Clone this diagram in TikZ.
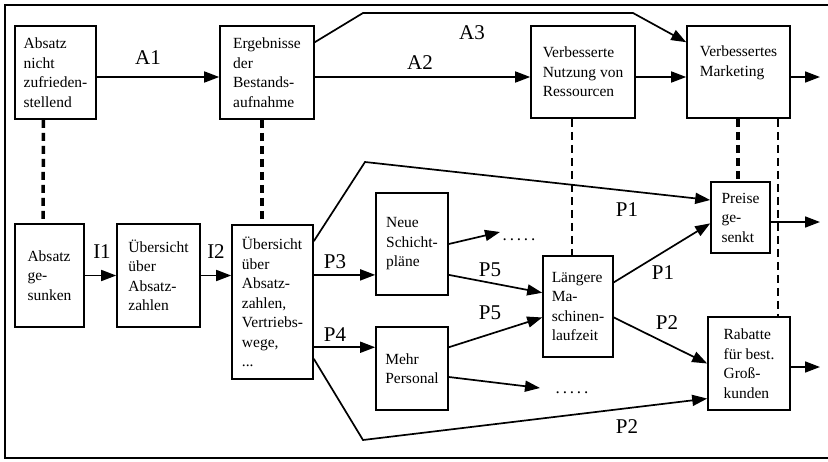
\documentclass[tikz,border=0pt]{standalone}
\usepackage{fontspec}
\setmainfont{Liberation Serif}
\usetikzlibrary{arrows.meta}

\tikzset{
  box/.style={draw, line width=1.6pt, align=left, inner xsep=7pt,
    font=\fontsize{15.5}{19.5}\selectfont},
  arr/.style={line width=1.7pt, -{Triangle[length=15pt,width=11pt]}},
  lab/.style={font=\fontsize{21}{22}\selectfont},
  more/.style={font=\fontsize{17}{18}\selectfont},
  link/.style={line width=3.5pt, dash pattern=on 8pt off 5pt},
  linkthin/.style={line width=1.8pt, dash pattern=on 8pt off 5pt}
}

\begin{document}
\begin{tikzpicture}[x=1pt,y=-1pt]
\useasboundingbox (0,0) rectangle (828,461);
% frame
\draw[line width=1.6pt] (828,5) -- (5,5) -- (5,458) -- (828,458);

% upper row
\node[box, minimum width=81pt, minimum height=93pt] (absn) at (55.5,72.5) {Absatz\\nicht\\zufrieden-\\stellend};
\node[box, minimum width=94pt, minimum height=93pt] (erg) at (267,72.5) {Ergebnisse\\der\\Bestands-\\aufnahme};
\node[box, minimum width=104pt, minimum height=92pt] (vnr) at (583,72) {Verbesserte\\Nutzung von\\Ressourcen};
\node[box, minimum width=103pt, minimum height=92pt, text depth=22pt] (vmk) at (738.5,72) {Verbessertes\\Marketing};

% lower row
\node[box, minimum width=69pt, minimum height=103pt] (absg) at (49.5,275.5) {Absatz\\ge-\\sunken};
\node[box, minimum width=83pt, minimum height=103pt] (ueb1) at (158.5,275.5) {Übersicht\\über\\Absatz-\\zahlen};
\node[box, minimum width=81pt, minimum height=154pt] (ueb2) at (272.5,302) {Übersicht\\über\\Absatz-\\zahlen,\\Vertriebs-\\wege,\\...};
\node[box, minimum width=72pt, minimum height=102pt] (neue) at (412,244) {Neue\\Schicht-\\pläne};
\node[box, minimum width=72pt, minimum height=83pt] (mehr) at (412,368.5) {Mehr\\Personal};
\node[box, minimum width=70pt, minimum height=101pt] (lmz) at (578,306.5) {Längere\\Ma-\\schinen-\\laufzeit};
\node[box, minimum width=59pt, minimum height=71pt, inner xsep=5pt] (preise) at (740.5,217.5) {Preise\\ge-\\senkt};
\node[box, minimum width=82pt, minimum height=93pt] (rabatt) at (749,363.5) {Rabatte\\für best.\\Groß-\\kunden};

\node[more] (more1) at (519,240) {.\,.\,.\,.\,.};
\node[more] (more2) at (572,393) {.\,.\,.\,.\,.};

% free ends and bends
\coordinate (o0) at (820,77);
\coordinate (o1) at (500,232);
\coordinate (o2) at (540,388);
\coordinate (o3) at (820,222);
\coordinate (o4) at (820,367);
\coordinate (a3a) at (363,13);
\coordinate (a3b) at (633,13);
\coordinate (p1a) at (365,162);
\coordinate (p2a) at (363,440);

% A arrows
\draw[arr] (absn.east |- o0) -- (erg.west |- o0);
\draw[arr] (erg.east |- o0) -- (vnr.west |- o0);
\draw[arr] (vnr.east |- o0) -- (vmk.west |- o0);
\draw[arr] (vmk.east |- o0) -- (o0);
\draw[arr] ([yshift=-17pt]erg.north east) -- (a3a) -- (a3b) -- ([yshift=-17pt]vmk.north west);

% dashed links
\draw[link] ([xshift=-12pt]absn.south) -- ([xshift=-6.5pt]absg.north);
\draw[link] ([xshift=-5pt]erg.south) -- ([xshift=-10.5pt]ueb2.north);
\draw[linkthin] ([xshift=-11pt]vnr.south) -- ([xshift=-6pt]lmz.north);
\draw[link] ([xshift=-0.5pt]vmk.south) -- ([xshift=-2.5pt]preise.north);
\draw[linkthin] ([xshift=39.5pt]vmk.south) -- ([xshift=29pt]rabatt.north);

% I and P arrows
\draw[arr] (absg.east) -- (ueb1.west);
\draw[arr] (ueb1.east) -- (ueb1.east -| ueb2.west);
\draw[arr] (neue.220 -| ueb2.east) -- (neue.220);
\draw[arr] (mehr.150 -| ueb2.east) -- (mehr.150);
\draw[arr] ([yshift=-17pt]ueb2.north east) -- (p1a) -- (preise.150);
\draw[arr] ([yshift=21pt]ueb2.south east) -- (p2a) -- (rabatt.220);
\draw[arr] (neue.east) -- (o1);
\draw[arr] (neue.320) -- (lmz.159);
\draw[arr] (mehr.30) -- (lmz.197);
\draw[arr] (mehr.347) -- (o2);
\draw[arr] (lmz.34) -- (preise.191);
\draw[arr] (lmz.343) -- (rabatt.west);
\draw[arr] (preise.east |- o3) -- (o3);
\draw[arr] (rabatt.east |- o4) -- (o4);

% labels
\node[lab] (la1) at (148,58) {A1};
\node[lab] (la2) at (420,63) {A2};
\node[lab] (la3) at (472,33) {A3};
\node[lab] (li1) at (102,252) {I1};
\node[lab] (li2) at (216,252) {I2};
\node[lab] (lp3) at (335,262) {P3};
\node[lab] (lp4) at (335,335) {P4};
\node[lab] (lp1a) at (627,210) {P1};
\node[lab] (lp2a) at (627,427) {P2};
\node[lab] (lp5a) at (490,270) {P5};
\node[lab] (lp5b) at (490,313) {P5};
\node[lab] (lp1b) at (663,273) {P1};
\node[lab] (lp2b) at (667,323) {P2};
\end{tikzpicture}
\end{document}
